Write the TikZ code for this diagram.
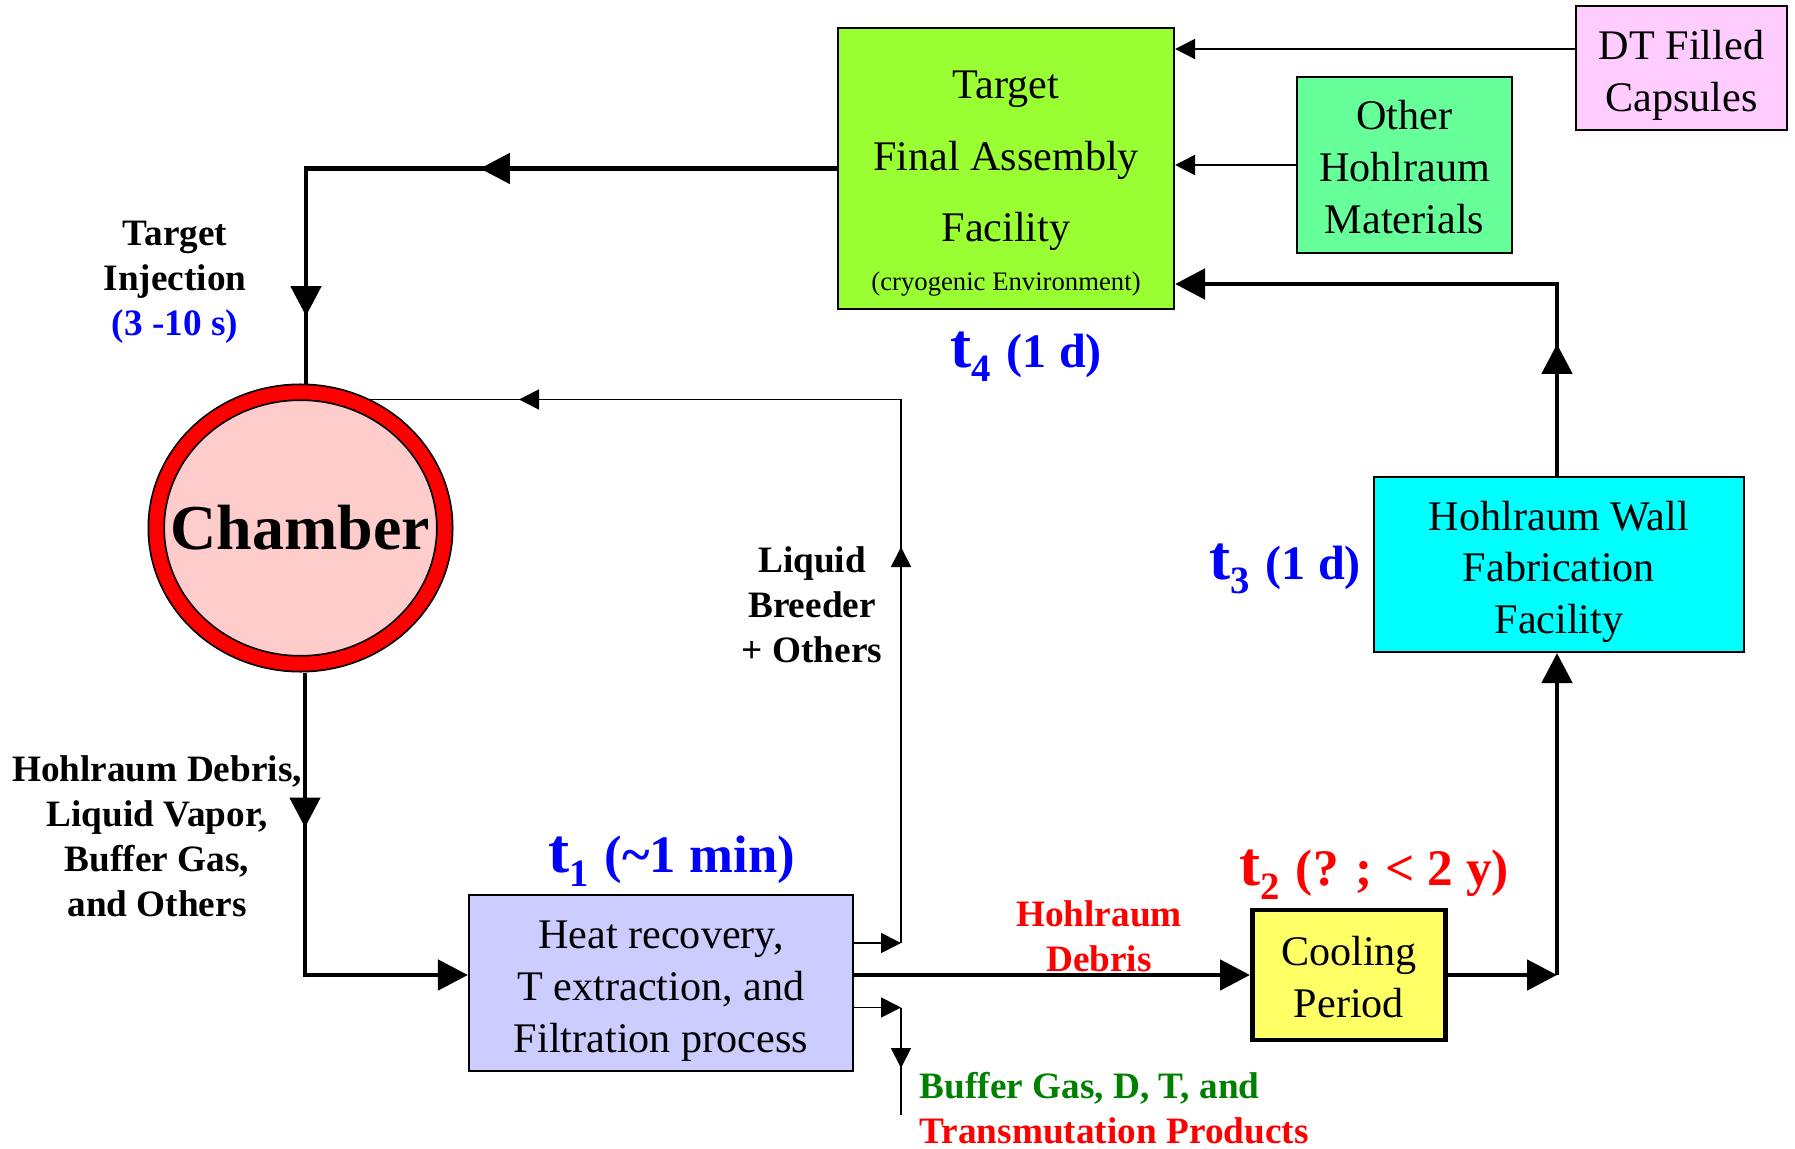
\documentclass[tikz,border=0pt]{standalone}
\usepackage{fontspec}
\setmainfont{Liberation Serif}
\usetikzlibrary{positioning,arrows.meta,shapes.geometric,decorations.markings}

\definecolor{assemblygreen}{HTML}{99FF33}
\definecolor{capsulepink}{HTML}{FFCCFF}
\definecolor{materialgreen}{HTML}{66FF99}
\definecolor{wallcyan}{HTML}{00FFFF}
\definecolor{coolyellow}{HTML}{FFFF66}
\definecolor{heatblue}{HTML}{CCCCFF}
\definecolor{chamberpink}{HTML}{FFCCCC}
\definecolor{buffergreen}{HTML}{008000}

% time label: big t, subscript, duration
\newcommand{\tlabel}[3][15]{{\fontsize{18}{18}\selectfont t}\raisebox{-4pt}{\fontsize{11}{11}\selectfont #2}\hspace{4.5pt}{\fontsize{#1}{#1}\selectfont #3}}
% extra room above the first line of a box
\newcommand{\toproom}[1]{\rule{0pt}{#1}}

\tikzset{
  bigtip/.tip={Triangle[length=0.3cm,width=0.3cm]},
  smalltip/.tip={Triangle[length=0.2cm,width=0.2cm]},
  box/.style={draw, line width=0.6pt, align=center, inner sep=0pt, font=\fontsize{12}{14.7}\selectfont},
  flowline/.style={line width=1.4pt},
  thinline/.style={line width=0.5pt},
  tipat/.style={postaction={decorate, decoration={markings, mark=at position #1 with {\arrow{bigtip}}}}},
  smalltipat/.style={postaction={decorate, decoration={markings, mark=at position #1 with {\arrow{smalltip}}}}},
  lab/.style={font=\bfseries\fontsize{10.6}{12.8}\selectfont, align=center},
  tlab/.style={font=\bfseries, anchor=base west, inner sep=0pt},
}

\begin{document}
\begin{tikzpicture}

\useasboundingbox (0,0) rectangle (17.95,-11.49);

% Facilities
\node[box, fill=assemblygreen, minimum width=3.36cm, minimum height=2.81cm, font=\fontsize{12}{20.4}\selectfont]
      (tfa) at (10.06,-1.685) {\toproom{16.5pt}Target\\Final Assembly\\Facility\\[-6.5pt]{\fontsize{7.6}{9}\selectfont (cryogenic Environment)}};
\node[box, fill=capsulepink, minimum width=2.11cm, minimum height=1.24cm]
      (dt) at (16.815,-0.68) {\toproom{12.5pt}DT Filled\\Capsules};
\node[box, fill=materialgreen, minimum width=2.15cm, minimum height=1.76cm]
      (ohm) at (14.045,-1.65) {\toproom{9.5pt}Other\\Hohlraum\\Materials};
\node[box, fill=wallcyan, minimum width=3.70cm, minimum height=1.75cm]
      (hwf) at (15.59,-5.645) {\toproom{12.5pt}Hohlraum Wall\\Fabrication\\Facility};
\node[box, fill=coolyellow, line width=1.4pt, minimum width=1.93cm, minimum height=1.30cm]
      (cool) at (13.49,-9.75) {\toproom{9.5pt}Cooling\\Period};
\node[box, fill=heatblue, minimum width=3.84cm, minimum height=1.76cm]
      (heat) at (6.61,-9.83) {\toproom{12.5pt}Heat recovery,\\T extraction, and\\Filtration process};

% Chamber
\node[ellipse, draw, line width=0.5pt, double=red, double distance=0.14cm, fill=chamberpink,
      minimum width=2.885cm, minimum height=2.715cm, inner sep=0pt, outer sep=0.0875cm,
      label={[font=\bfseries\fontsize{18.2}{18.2}\selectfont]center:Chamber}] (chamber) at (3.005,-5.28) {};

% Corners of the flow lines
\coordinate (topleft) at (3.06,-1.685);
\coordinate (bottomleft) at (3.05,-9.75);
\coordinate (bottomright) at (15.57,-9.75);
\coordinate (topright) at (15.57,-2.84);
\coordinate (capsuleline) at (16.0,-0.49);
\coordinate (loopbase) at (9.01,-9.43);
\coordinate (looptop) at (9.01,-3.995);
\coordinate (ventbase) at (9.01,-10.075);
\coordinate (ventend) at (9.01,-11.15);

% Main loop
\draw[flowline, tipat=3.57cm, tipat=6.785cm] (tfa.west) -- (topleft) -- (topleft |- chamber.north);
\draw[flowline, -bigtip, tipat=1.55cm] (bottomleft |- chamber.south) -- (bottomleft) -- (bottomleft -| heat.west);
\draw[flowline, -bigtip] (bottomleft -| heat.east) -- (cool.west);
\draw[flowline, -bigtip] (cool.east) -- (bottomright);
\draw[flowline, -bigtip] (bottomright) -- (bottomright |- hwf.south);
\draw[flowline, -bigtip, tipat=1.32cm] (bottomright |- hwf.north) -- (topright) -- (topright -| tfa.east);

% Supplies
\draw[thinline, -smalltip] (dt.west |- capsuleline) -- (tfa.east |- capsuleline);
\draw[thinline, -smalltip] (ohm.west) -- (ohm.west -| tfa.east);

% Liquid breeder back to the chamber
\draw[thinline, -smalltip] (loopbase -| heat.east) -- (loopbase);
\draw[thinline, smalltipat=3.96cm, smalltipat=9.255cm] (loopbase) -- (looptop) -- (looptop -| chamber.62);

% Gases out
\draw[thinline, -smalltip] (ventbase -| heat.east) -- (ventbase);
\draw[thinline, smalltipat=0.605cm] (ventbase) -- (ventend);

% Labels
\node[lab] (inject) at (1.75,-2.82) {Target\\Injection\\\textcolor{blue}{(3 -10 s)}};
\node[lab] (exhaust) at (1.57,-8.36) {Hohlraum Debris,\\Liquid Vapor,\\Buffer Gas,\\and Others};
\node[lab] (breeder) at (8.12,-6.05) {Liquid\\Breeder\\+ Others};
\node[lab, text=red] (debris) at (10.99,-9.36) {Hohlraum\\Debris};
\node[lab, align=left, anchor=west, inner sep=0pt] (products) at (9.19,-11.085)
      {\textcolor{buffergreen}{Buffer Gas, D, T, and}\\\textcolor{red}{Transmutation Products}};

% Times
\node[tlab, text=blue] (t1) at (5.48,-8.72) {\tlabel{1}{(\textasciitilde 1 min)}};
\node[tlab, text=red] (t2) at (12.39,-8.85) {\tlabel[14.6]{2}{(? ; < 2 y)}};
\node[tlab, text=blue] (t3) at (12.09,-5.79) {\tlabel[13.7]{3}{(1 d)}};
\node[tlab, text=blue] (t4) at (9.50,-3.67) {\tlabel[13.7]{4}{(1 d)}};

\end{tikzpicture}
\end{document}
